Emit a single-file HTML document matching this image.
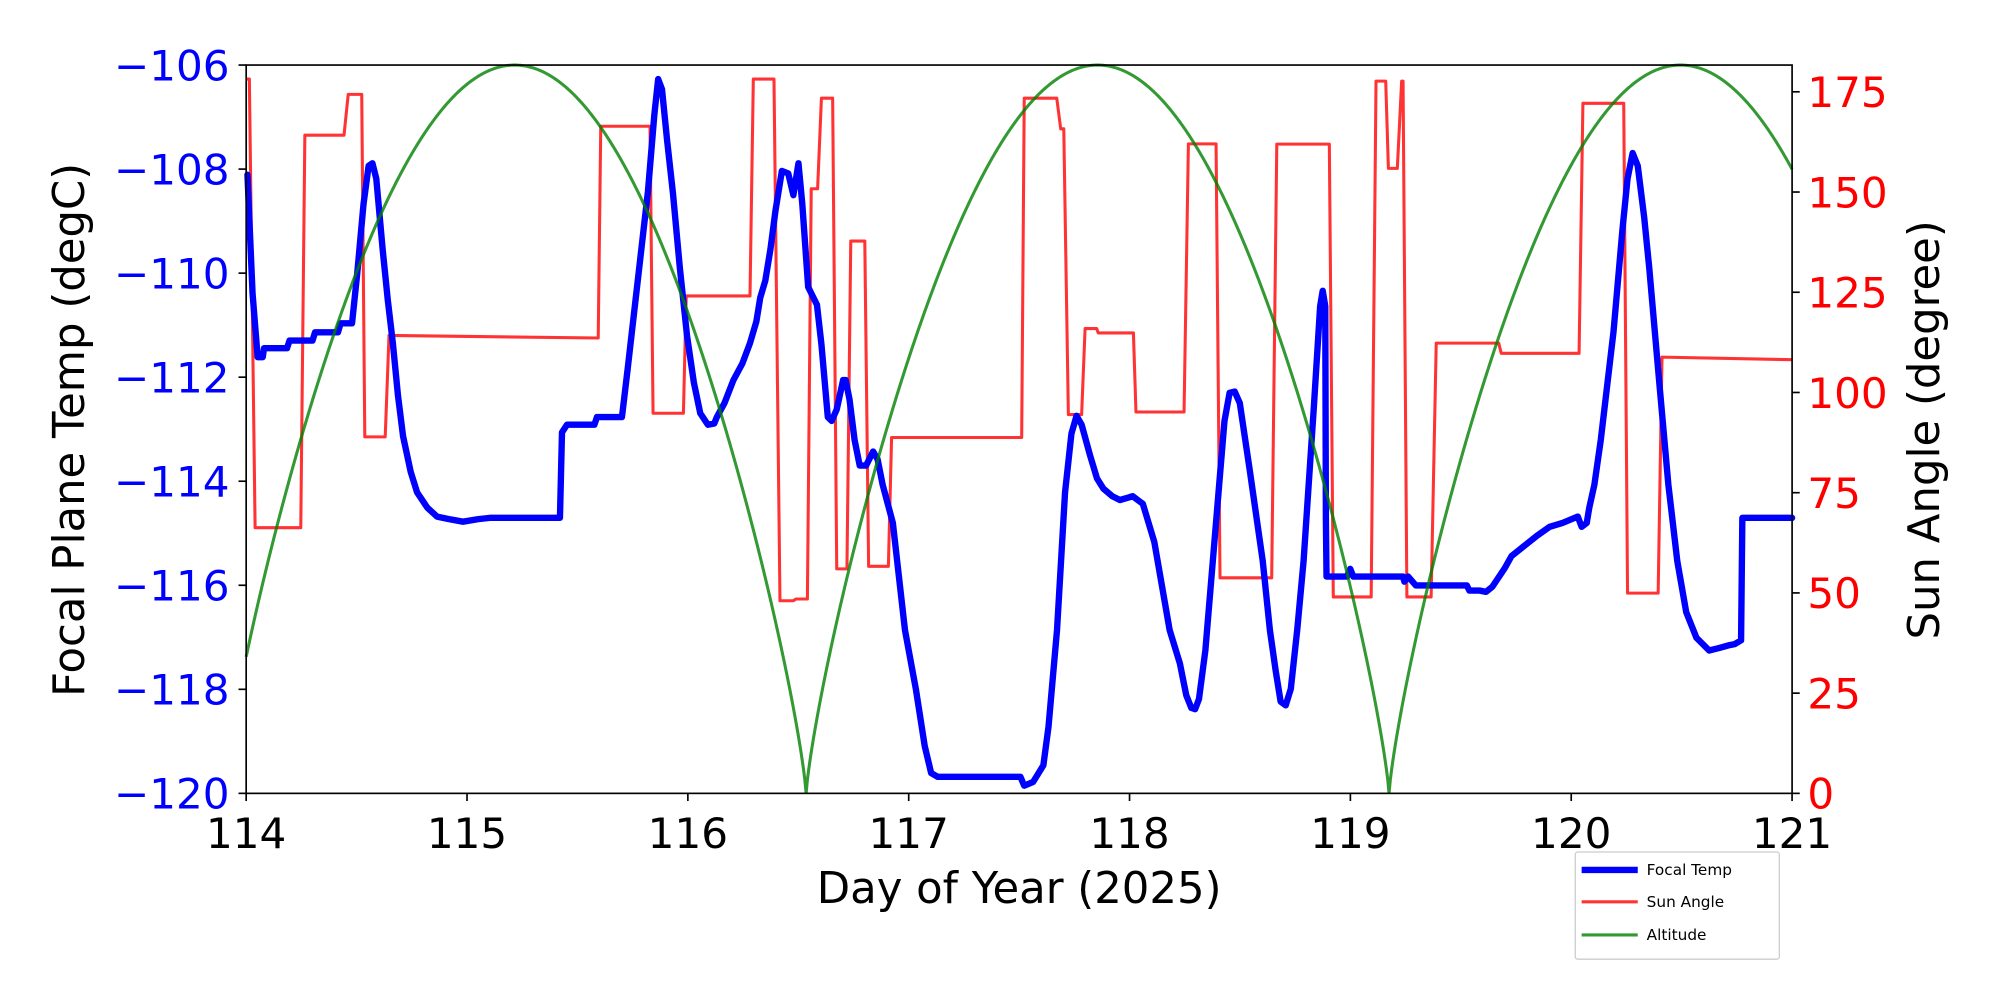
<!DOCTYPE html>
<html><head><meta charset="utf-8"><style>
html,body{margin:0;padding:0;background:#fff;}
svg{display:block;font-family:"DejaVu Sans","Liberation Sans",sans-serif;}
</style></head><body>
<svg id="s" width="2000" height="1000" viewBox="0 0 1568 784" xmlns="http://www.w3.org/2000/svg">
<rect width="1568" height="784" fill="#fff"/>
<polyline fill="none" stroke="#ff0000" stroke-opacity="0.8" stroke-width="2.4" stroke-linejoin="round" points="
193,62 195.5,62 200,413.7 235.8,413.7 239,106 269.7,106 273,74 283.6,74 286,342.5 302,342.5 305,263 469,265 471,99 509.6,99 512,324 535.8,324 538,232 588,232 590.6,62 606.8,62 611.5,471 622,471 624,469.6 633,469.6 636,148 641,148 644,77 652.8,77 656,446 664,446 667,189 678,189 681,444 696.5,444 699,343 801,343 803,77 828.5,77 831.6,101 834,101 837.6,325 848,325 850.7,257.6 859.8,257.6 861,261 888.6,261 890.6,323 928.3,323 931.7,112.8 953.4,112.8 956.5,453 997,453 1001,113 1042.2,113 1045.3,468 1075,468 1078.8,63.6 1086.4,63.6 1088.5,132 1095.5,132 1098.9,63.6 1100,63.6 1103,468 1122,468 1126,269 1175,269 1177,277 1238,277 1241,81 1273,81 1276,465 1300,465 1303,280 1405,282"/>
<polyline fill="none" stroke="#0000ff" stroke-width="5" stroke-linejoin="round" stroke-linecap="round" points="
194,137 198,230 202,280 206,280 207,273 225,273 227,267 245,267 247,260.5 265,260.5 267,253.5 276,253.5 280,215 285,160 289,130 292,128 295,140 300,195.5 304,235 308,269 312,310 316,342 322,370 327,386 335,398 342.6,405 352,407 363,409 375,407 384,406 439,406 440.6,339 444.5,333 466,333 468,327 487.6,327 492,290 500,220 508,150 513,90 516,62 519,70 523,110 527.6,151.5 533,210 538.6,263 544,300 549,324 555,333 560,332 562,327 568,316 575,298 582,285 588,269 593,252 596,233.5 600,220 604,195.5 608,165 613,134 618,136 622,153 626,128 629,160 633.6,225 640.5,239 644,270 649,327 652,330 656,321 661,298 663,298 666,313 670,345 674,365 679,365 684.5,354 688,360 692,380 700,410 709.5,494 718,540 725,585 730,606 735,609 800,609 803,616 810,613 818,600 822,570 828.7,494 835,386 840,340 844,326 848,333 854.6,357 860,375 865,383 872,389 878,392 885,390 888,389 896,395 905,425 917,494 925,520 930,545 934,555 937,556 940,548 945,510 950,450 955,390 960,330 964,308 968,307 972,316 980,370 990,440 995.6,494 1000,525 1004,550 1008,553 1012,540 1017,494 1022,440 1030,320 1035,240 1037,228 1039,240 1039.5,407.6 1040,452 1056,452 1058.6,446 1061,452 1100,452 1101,456 1104,452 1110,459 1150,459 1152,463 1160,463 1165,464 1170,460 1180,445 1185,436 1195,428 1205,420 1215,413 1225,410 1237,405 1240,413 1244,410 1246,398 1250,380 1255,345 1265,260 1272,180 1276,140 1280,120 1284,130 1289,170 1293,210 1300,290 1308,380 1315,440 1322,480 1330,500 1340,510 1348,508 1355,506 1360,505 1365,502 1366,406 1405,406"/>
<path id="alt" fill="none" stroke="#008000" stroke-opacity="0.8" stroke-width="2.4" d=""/>
<rect x="193" y="51" width="1212" height="571" fill="none" stroke="#000" stroke-width="1.3"/>
<g id="ticks" stroke="#000" stroke-width="1.3"></g>
<g id="labels"></g>
<text x="799" y="708" font-size="34" text-anchor="middle">Day of Year (2025)</text>
<text transform="translate(66,337) rotate(-90)" font-size="34" text-anchor="middle">Focal Plane Temp (degC)</text>
<text transform="translate(1520,337) rotate(-90)" font-size="34" text-anchor="middle">Sun Angle (degree)</text>
<rect x="1235" y="668" width="160" height="84" fill="#fff" stroke="#ccc" stroke-width="1" rx="2"/>
<line x1="1240" y1="682" x2="1284" y2="682" stroke="#0000ff" stroke-width="5"/>
<text x="1291" y="686" font-size="12">Focal Temp</text>
<line x1="1240" y1="707" x2="1284" y2="707" stroke="#ff0000" stroke-opacity="0.8" stroke-width="2.4"/>
<text x="1291" y="711" font-size="12">Sun Angle</text>
<line x1="1240" y1="733" x2="1284" y2="733" stroke="#008000" stroke-opacity="0.8" stroke-width="2.4"/>
<text x="1291" y="737" font-size="12">Altitude</text>
<script>
(function(){
var NS="http://www.w3.org/2000/svg";
var d="";
for(var x=193;x<=1405;x+=1){
 var t=Math.abs(Math.sin(Math.PI*(x-632)/457));
 var v=Math.pow(t,0.8);
 var y=622-571*v;
 d+=(x==193?"M":"L")+x+","+y.toFixed(2);
}
document.getElementById("alt").setAttribute("d",d);
var tk=document.getElementById("ticks"),lb=document.getElementById("labels");
function el(n,a,txt,p){var e=document.createElementNS(NS,n);for(var k in a)e.setAttribute(k,a[k]);if(txt!==undefined)e.textContent=txt;p.appendChild(e);}
for(var i=0;i<=7;i++){var x=193+i*173.14;el("line",{x1:x,y1:622,x2:x,y2:628},undefined,tk);
 el("text",{x:x,y:665,"font-size":33,"text-anchor":"middle"},String(114+i),lb);}
for(var i=0;i<=7;i++){var y=51+i*81.57;el("line",{x1:187,y1:y,x2:193,y2:y},undefined,tk);
 el("text",{x:180,y:y+12,"font-size":33,"text-anchor":"end",fill:"#0000ff"},"\u2212"+(106+2*i),lb);}
for(var i=0;i<=7;i++){var y=622-i*25*3.143;el("line",{x1:1405,y1:y,x2:1411,y2:y},undefined,tk);
 el("text",{x:1417,y:y+12,"font-size":33,"text-anchor":"start",fill:"#ff0000"},String(i*25),lb);}
})();
</script>
</svg>
</body></html>
